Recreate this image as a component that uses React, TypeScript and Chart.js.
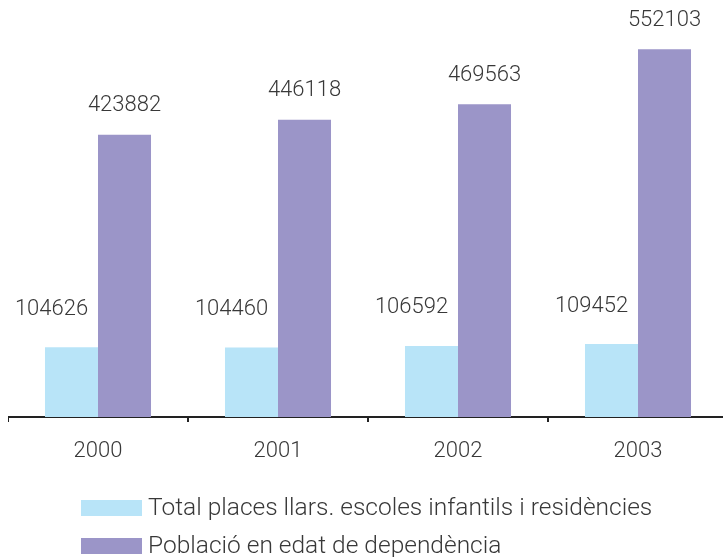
import React, { useEffect, useRef } from "react";
import { Chart, registerables } from "chart.js";

Chart.register(...registerables);

const categories = ["2000", "2001", "2002", "2003"];
const placesValues = [104626, 104460, 106592, 109452];
const poblacioValues = [423882, 446118, 469563, 552103];
const seriesNames = [
  "Total places llars. escoles infantils i residències",
  "Població en edat de dependència",
];
const seriesColors = ["#b8e4f8", "#9b95c8"];

const FONT = "Roboto, 'DejaVu Sans', sans-serif";
const TEXT_COLOR = "#383838";

const valueLabelPlugin = {
  id: "valueLabels",
  afterDatasetsDraw(chart: any) {
    const ctx = chart.ctx;
    ctx.save();
    ctx.font = `300 22px ${FONT}`;
    ctx.fillStyle = TEXT_COLOR;
    ctx.textAlign = "center";
    ctx.textBaseline = "middle";
    chart.data.datasets.forEach((ds: any, di: number) => {
      const meta = chart.getDatasetMeta(di);
      meta.data.forEach((bar: any, i: number) => {
        const v = ds.data[i];
        const dx = di === 0 ? -20 : 0;
        const dy = di === 0 ? 38 : 29;
        ctx.fillText(String(v), bar.x + dx, bar.y - dy);
      });
    });
    ctx.restore();
  },
};

const legendPlugin = {
  id: "columnLegend",
  afterDraw(chart: any) {
    const ctx = chart.ctx;
    ctx.save();
    ctx.font = `300 24.5px ${FONT}`;
    ctx.textAlign = "left";
    ctx.textBaseline = "middle";
    chart.data.datasets.forEach((ds: any, di: number) => {
      const y = 500 + di * 38;
      ctx.fillStyle = ds.backgroundColor;
      ctx.fillRect(73, y - 8, 61, 16);
      ctx.fillStyle = TEXT_COLOR;
      ctx.fillText(ds.label, 140, y + 1);
    });
    ctx.restore();
  },
};

export default function App() {
  const canvasRef = useRef<HTMLCanvasElement | null>(null);

  useEffect(() => {
    if (!canvasRef.current) return;
    const chart = new Chart(canvasRef.current, {
      type: "bar",
      data: {
        labels: categories,
        datasets: [
          {
            label: seriesNames[0],
            data: placesValues,
            backgroundColor: seriesColors[0],
            categoryPercentage: 0.589,
            barPercentage: 1,
          },
          {
            label: seriesNames[1],
            data: poblacioValues,
            backgroundColor: seriesColors[1],
            categoryPercentage: 0.589,
            barPercentage: 1,
          },
        ],
      },
      options: {
        responsive: false,
        animation: false,
        layout: { padding: { top: 0, left: 0, right: 0, bottom: 70 } },
        plugins: {
          legend: { display: false },
          tooltip: { enabled: false },
        },
        scales: {
          x: {
            z: 1,
            grid: {
              display: true,
              drawOnChartArea: false,
              drawTicks: true,
              tickLength: 5,
              color: "#222222",
              lineWidth: 2,
              offset: true,
            },
            border: { display: true, color: "#222222", width: 2 },
            ticks: {
              color: TEXT_COLOR,
              font: { family: FONT, size: 22, weight: "300" },
              padding: 16,
              maxRotation: 0,
            },
            afterFit: (scale: any) => {
              scale.height = 70;
            },
          },
          y: {
            display: false,
            min: 0,
            max: 614000,
          },
        },
      },
      plugins: [valueLabelPlugin, legendPlugin],
    });
    return () => chart.destroy();
  }, []);

  return (
    <div
      style={{
        position: "absolute",
        left: 8,
        top: 8,
        width: 715,
        height: 549,
        overflow: "hidden",
      }}
    >
      <canvas
        ref={canvasRef}
        width={720}
        height={549}
        style={{ display: "block", width: 720, height: 549 }}
      />
    </div>
  );
}
